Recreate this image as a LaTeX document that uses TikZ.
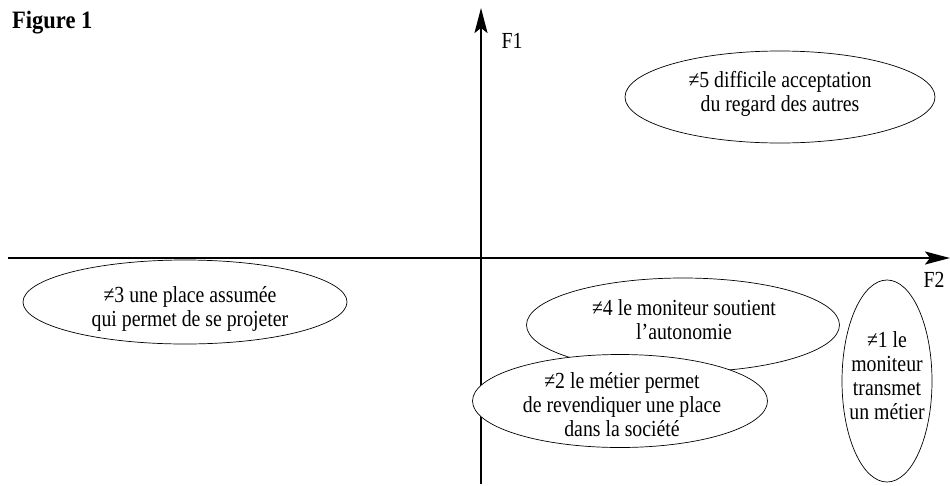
\documentclass[tikz,border=0pt]{standalone}
\usepackage{fontspec}
\setmainfont[FakeStretch=0.86]{Liberation Serif}
\newfontfamily\figfont[FakeStretch=0.9]{Liberation Serif}
\usetikzlibrary{shapes.geometric,arrows.meta}
\tikzset{
  axis/.style={line width=2.2pt,-{Stealth[length=25pt,width=13pt,inset=5pt]}},
  bubble/.style={ellipse,draw,line width=0.7pt,fill=white,inner sep=0pt},
  btext/.style={inner sep=0pt,align=center,font=\fontsize{23}{24}\selectfont},
  axlabel/.style={font=\fontsize{23}{24}\selectfont,inner sep=0pt}
}
\begin{document}
\begin{tikzpicture}[x=1pt,y=-1pt]
\useasboundingbox (0,0) rectangle (950,485);
% axes
\coordinate (vb) at (481,484);
\coordinate (vt) at (481,8);
\coordinate (hl) at (8,258);
\coordinate (hr) at (950,258);
\draw[axis] (vb) -- (vt);
\draw[axis] (hl) -- (hr);
\node[axlabel] (f1) at (512,41) {F1};
\node[axlabel] (f2) at (934,280) {F2};
\node[inner sep=0pt,anchor=base west,font=\figfont\bfseries\fontsize{25}{25}\selectfont] (fig) at (12,28) {Figure 1};
% bubbles
\node[bubble,minimum width=310pt,minimum height=92pt] (e5) at (780,97) {};
\node[btext] (t5) at (780,94) {≠5 difficile acceptation\\du regard des autres};
\node[bubble,minimum width=324pt,minimum height=84pt] (e3) at (185,302) {};
\node[btext] (t3) at (190,309) {≠3 une place assumée\\qui permet de se projeter};
\node[bubble,minimum width=313pt,minimum height=94pt] (e4) at (683,325) {};
\node[btext] (t4) at (684,320) {≠4 le moniteur soutient\\l’autonomie};
\node[bubble,minimum width=295pt,minimum height=93pt] (e2) at (620,401) {};
\node[btext] (t2) at (622,405) {≠2 le métier permet\\de revendiquer une place\\dans la société};
\node[bubble,minimum width=90pt,minimum height=202pt] (e1) at (887,381) {};
\node[btext] (t1) at (887,376) {≠1 le\\moniteur\\transmet\\un métier};
\end{tikzpicture}
\end{document}
